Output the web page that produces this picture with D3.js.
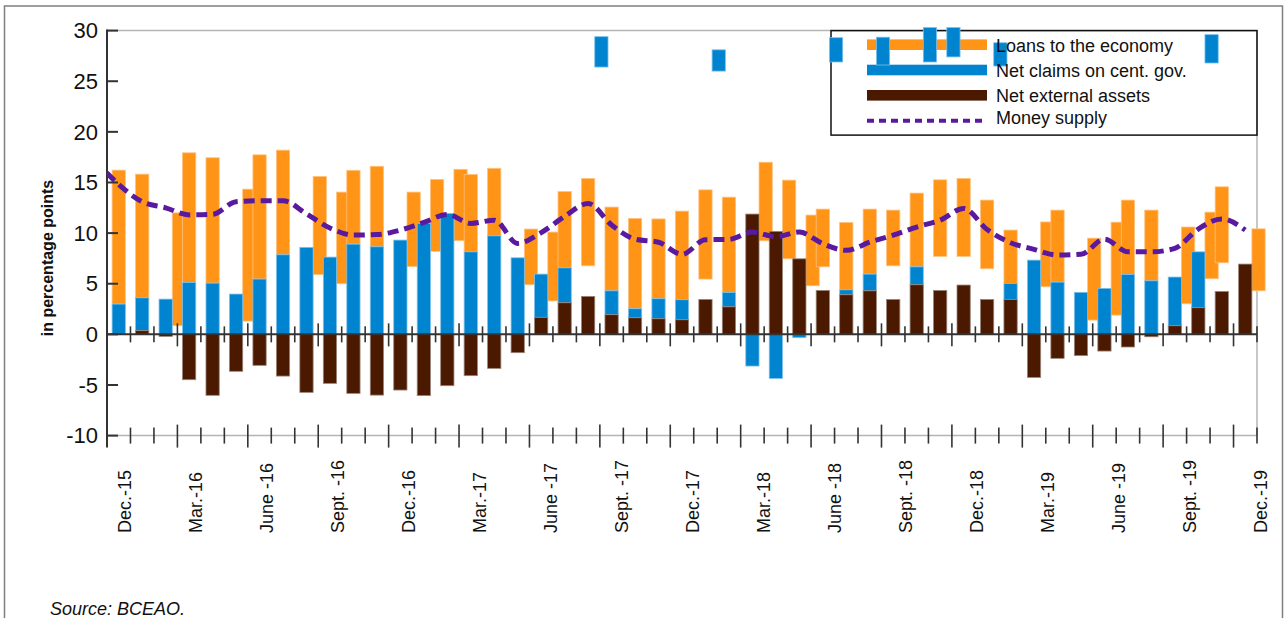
<!DOCTYPE html>
<html>
<head>
<meta charset="utf-8">
<script src="https://cdn.jsdelivr.net/npm/d3@7"></script>
<style>
  body { margin: 0; background: #fff; }
  svg { display: block; font-family: "Liberation Sans", Arial, sans-serif; }
</style>
</head>
<body>
<svg id="chart" width="1287" height="618"></svg>
<script>

// ---- data (Dec.-15 .. Dec.-19, monthly) ----
var tickLabels = ["Dec.-15", "Mar.-16", "June -16", "Sept. -16", "Dec.-16", "Mar.-17", "June -17",
  "Sept. -17", "Dec.-17", "Mar.-18", "June -18", "Sept. -18", "Dec.-18", "Mar.-19", "June -19",
  "Sept. -19", "Dec.-19"];

var netExternal = [0, 0.36, -0.2, -4.48, -6.02, -3.65, -3.06, -4.12, -5.73, -4.84,
  -5.83, -6.0, -5.5, -6.05, -5.07, -4.08, -3.36, -1.81, 1.68, 3.12,
  3.75, 1.94, 1.64, 1.54, 1.44, 3.45, 2.72, 11.88, 10.17, 7.46,
  4.34, 3.91, 4.3, 3.45, 4.9, 4.34, 4.87, 3.45, 3.45, -4.25,
  -2.37, -2.1, -1.65, -1.25, -0.24, 0.85, 2.63, 4.24, 6.94];

var netClaims = [2.99, 3.25, 3.48, 5.13, 5.06, 3.98, 5.46, 7.86, 8.59, 7.63,
  8.91, 8.65, 9.31, 10.96, 11.94, 8.15, 9.73, 7.56, 4.27, 3.45,
  0, 2.36, 0.89, 1.98, 1.98, 0, 1.42, -3.13, -4.35, -0.33,
  0, 0.49, 1.65, 0, 1.77, 0, 0, 0, 1.58, 7.33,
  5.16, 4.15, 4.54, 5.92, 5.29, 4.81, 5.52, 0, 0];

// loans bars float in the source picture, so keep low and high ends
var loansLow = [2.99, 3.61, null, 5.13, 5.06, null, 5.46, 7.86, null, null,
  8.91, 8.65, null, null, null, 8.15, 9.73, null, null, 6.57,
  6.77, 4.3, 2.53, 3.52, 3.42, 5.46, 4.14, null, null, null,
  6.67, 4.4, 5.95, 6.77, 6.67, 7.7, 7.7, 6.48, 5.03, null,
  5.16, null, null, 5.92, 5.29, null, null, 7.07, null];
var loansHigh = [16.22, 15.82, null, 17.93, 17.44, null, 17.73, 18.19, null, null,
  16.2, 16.6, null, null, null, 15.8, 16.4, null, null, 14.1,
  15.4, 12.57, 11.45, 11.4, 12.17, 14.27, 13.55, null, null, null,
  12.37, 11.05, 12.37, 12.27, 13.95, 15.26, 15.4, 13.26, 10.3, null,
  12.27, null, null, 13.26, 12.27, null, null, 14.57, null];

// second, offset set of bars: [month index, low, high]
var loansOffset = [[3, 0.85, 12.0], [6, 1.31, 14.34], [9, 5.9, 15.6], [10, 5.0, 14.05],
  [13, 6.7, 14.05], [14, 8.2, 15.3], [15, 9.25, 16.3], [18, 4.9, 10.4], [19, 3.3, 10.1],
  [28, 9.24, 17.0], [29, 7.46, 15.23], [30, 4.8, 11.78], [40, 4.7, 11.1], [42, 1.41, 9.5],
  [43, 1.9, 11.08], [46, 3.02, 10.6], [47, 5.49, 12.07], [49, 4.3, 10.42]];
var claimsOffset = [[21, 26.4, 29.4], [26, 26.0, 28.1], [31, 26.9, 29.3], [33, 26.6, 29.35],
  [35, 26.9, 30.3], [36, 27.4, 30.3], [38, 26.5, 28.8], [47, 26.8, 29.6]];

// money supply, Nov.-15 .. Dec.-19
var moneySupply = [17.2, 14.8, 13.1, 12.5, 11.8, 11.85, 13.1, 13.19, 13.19, 11.9, 10.5,
  9.8, 9.85, 10.3, 11.05, 11.85, 10.96, 11.28, 8.98, 10.05, 11.65,
  12.93, 10.8, 9.4, 9.1, 7.9, 9.35, 9.38, 10.1, 9.63, 10.1,
  8.95, 8.3, 9.1, 9.8, 10.6, 11.28, 12.44, 10.35, 9.05, 8.4,
  7.83, 7.9, 9.4, 8.15, 8.15, 8.5, 10.4, 11.4, 10.3];

var yTicks = [30, 25, 20, 15, 10, 5, 0, -5, -10];

var legendItems = ["Loans to the economy", "Net claims on cent. gov.", "Net external assets", "Money supply"];

// ---- colours ----
var cOrange = "#ff9416", cBlue = "#0084d0", cBrown = "#4a1900", cPurple = "#5a1aa0";

var svg = d3.select("#chart");
var plot = { left: 107, right: 1257, top: 30.6, bottom: 435.6 };
var nBands = netExternal.length;
var pad = 0.435;

var x = d3.scaleLinear().domain([0, nBands]).range([plot.left, plot.right]);
var y = d3.scaleLinear().domain([-10, 30]).range([plot.bottom, plot.top]);
// the quarter labels sit on their own, slightly wider spacing
var xLabel = d3.scaleLinear().domain([0, tickLabels.length - 1]).range([124.9, 1261]);
var barW = x(1 - pad) - x(0);

function barX(i) { return x(i + pad / 2); }
function offsetX(i) { return x(i - pad / 2); }

function bar(g, x0, v0, v1, fill, edge) {
  g.append("rect")
    .attr("x", x0)
    .attr("y", y(Math.max(v0, v1)))
    .attr("width", barW)
    .attr("height", Math.abs(y(v0) - y(v1)))
    .attr("fill", fill)
    .attr("stroke", edge)
    .attr("stroke-width", 0.8);
}

// outer frame
svg.append("rect").attr("x", 4.5).attr("y", 6).attr("width", 1278).attr("height", 640)
  .attr("fill", "none").attr("stroke", "#7f7f7f").attr("stroke-width", 1.5);

// plot border (grey) top / right / bottom
var grid = svg.append("g").attr("stroke", "#b4b4b4").attr("stroke-width", 1.5);
grid.append("line").attr("x1", plot.left).attr("x2", plot.right).attr("y1", y(30)).attr("y2", y(30));
grid.append("line").attr("x1", plot.left).attr("x2", plot.right).attr("y1", y(-10)).attr("y2", y(-10));
grid.append("line").attr("x1", plot.right).attr("x2", plot.right).attr("y1", y(30)).attr("y2", y(-10));

// legend box and keys (under the bars, as in the source)
var lg = svg.append("g");
lg.append("rect").attr("x", 831).attr("y", 30.6).attr("width", 426).attr("height", 104.5)
  .attr("fill", "none").attr("stroke", "#111").attr("stroke-width", 1.5);
var keyY = [44.7, 70, 95.3, 120.7];
var keyCol = [cOrange, cBlue, cBrown];
keyCol.forEach(function (c, k) {
  lg.append("rect").attr("x", 867).attr("y", keyY[k] - 5.3).attr("width", 120).attr("height", 10.6)
    .attr("fill", c);
});
lg.append("line").attr("x1", 867).attr("x2", 986).attr("y1", keyY[3]).attr("y2", keyY[3])
  .attr("stroke", cPurple).attr("stroke-width", 4).attr("stroke-dasharray", "7,5");

// bars
var bars = svg.append("g");
loansOffset.forEach(function (d) {
  bar(bars, offsetX(d[0]), d[1], d[2], cOrange, "#ffc27f");
});
d3.range(nBands).forEach(function (i) {
  if (loansLow[i] !== null) bar(bars, barX(i), loansLow[i], loansHigh[i], cOrange, "#ffc27f");
});
d3.range(nBands).forEach(function (i) {
  var v = netClaims[i];
  if (v === 0) return;
  var base = v > 0 ? Math.max(netExternal[i], 0) : Math.min(netExternal[i], 0);
  if (v < 0 && netExternal[i] > 0) base = 0;
  bar(bars, barX(i), base, base + v, cBlue, "#7cc0ea");
});
d3.range(nBands).forEach(function (i) {
  if (netExternal[i] !== 0) bar(bars, barX(i), 0, netExternal[i], cBrown, "#9a8478");
});
claimsOffset.forEach(function (d) {
  bar(bars, offsetX(d[0]), d[1], d[2], cBlue, "#7cc0ea");
});

// zero line and category ticks
var ax = svg.append("g").attr("stroke", "#333");
ax.append("line").attr("x1", plot.left).attr("x2", plot.right).attr("y1", y(0)).attr("y2", y(0))
  .attr("stroke-width", 2);
d3.range(1, nBands + 1).forEach(function (j) {
  var major = j % 3 === 0;
  ax.append("line").attr("x1", x(j)).attr("x2", x(j))
    .attr("y1", y(0) - (major ? 11 : 8)).attr("y2", y(0) + (major ? 12 : 8))
    .attr("stroke-width", 1.6);
  ax.append("line").attr("x1", x(j)).attr("x2", x(j))
    .attr("y1", y(-10) - (major ? 11 : 8)).attr("y2", y(-10) + (major ? 12 : 8))
    .attr("stroke-width", 1.6);
});

// y axis
ax.append("line").attr("x1", plot.left).attr("x2", plot.left).attr("y1", y(30) - 1).attr("y2", y(-10) + 12)
  .attr("stroke-width", 2);
yTicks.forEach(function (t) {
  ax.append("line").attr("x1", plot.left).attr("x2", plot.left + 11).attr("y1", y(t)).attr("y2", y(t))
    .attr("stroke-width", 2);
  svg.append("text").attr("x", 98).attr("y", y(t)).attr("dy", "0.35em")
    .attr("text-anchor", "end").attr("font-size", 22).attr("fill", "#111").text(t);
});

svg.append("text")
  .attr("transform", "translate(47,258) rotate(-90)")
  .attr("dy", "0.35em").attr("text-anchor", "middle")
  .attr("font-size", 16).attr("font-weight", "bold").attr("fill", "#111")
  .text("in percentage points");

// category labels, one per quarter
tickLabels.forEach(function (lab, k) {
  svg.append("text")
    .attr("transform", "translate(" + xLabel(k) + ",533) rotate(-90)")
    .attr("dy", "0.35em").attr("text-anchor", "start")
    .attr("font-size", 18).attr("fill", "#111")
    .text(lab);
});

// money supply dashed line
svg.append("clipPath").attr("id", "plotClip").append("rect")
  .attr("x", plot.left).attr("y", 0).attr("width", plot.right - plot.left).attr("height", 618);
var line = d3.line()
  .x(function (d, i) { return x(i - 1 + 0.5); })
  .y(function (d) { return y(d); })
  .curve(d3.curveMonotoneX);
svg.append("path").datum(moneySupply)
  .attr("clip-path", "url(#plotClip)")
  .attr("d", line)
  .attr("fill", "none").attr("stroke", cPurple).attr("stroke-width", 5)
  .attr("stroke-dasharray", "11,6");

// legend text on top
legendItems.forEach(function (name, k) {
  svg.append("text").attr("x", 996).attr("y", [51.5, 76.5, 101.5, 124][k])
    .attr("font-size", 18).attr("fill", "#111").text(name);
});

svg.append("text").attr("x", 50).attr("y", 615)
  .attr("font-size", 18).attr("font-style", "italic").attr("fill", "#111")
  .text("Source: BCEAO.");

</script>
</body>
</html>
